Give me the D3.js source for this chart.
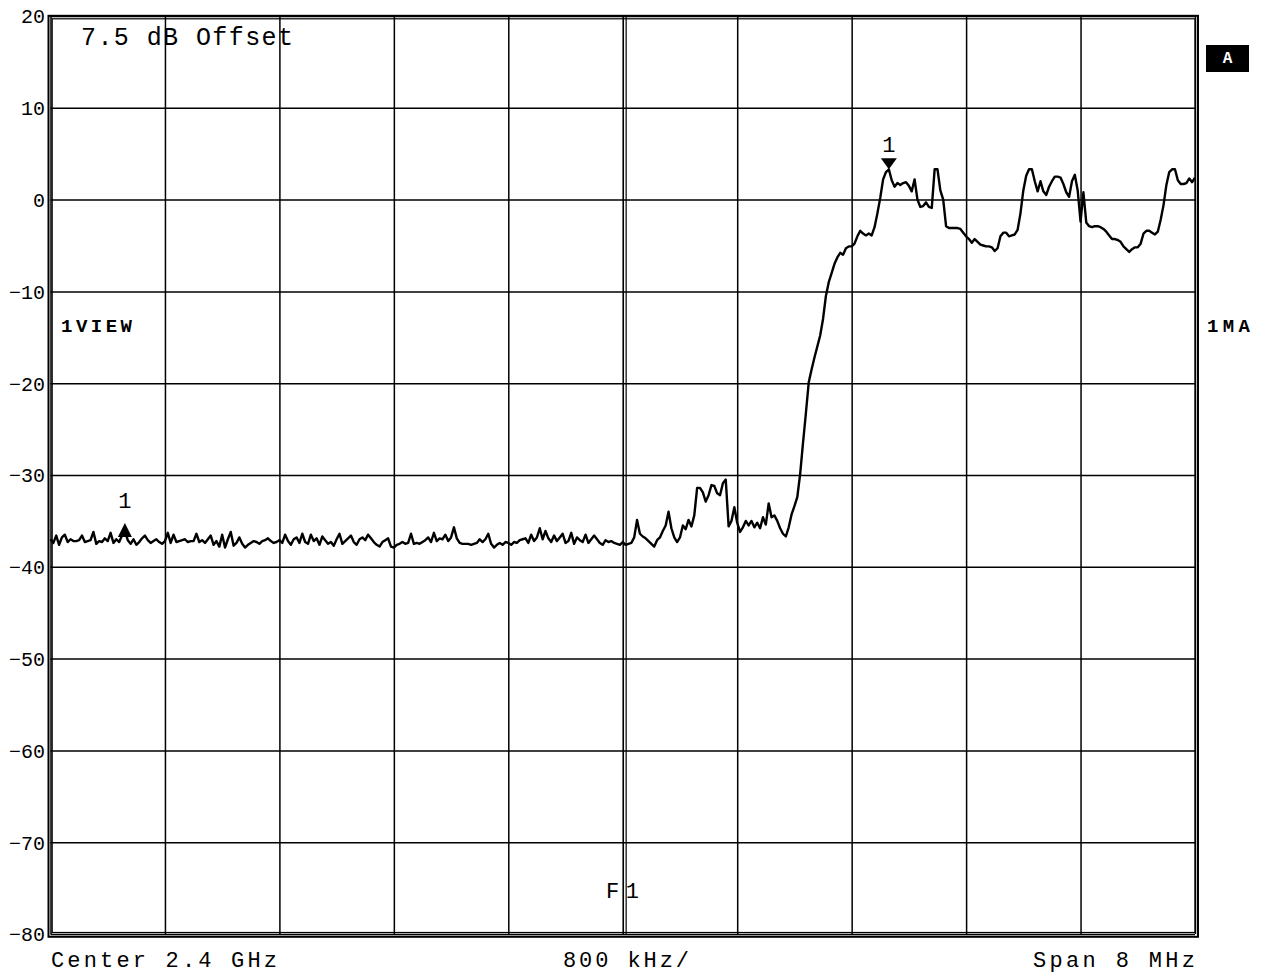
<!DOCTYPE html>
<html>
<head>
<meta charset="utf-8">
<script src="https://cdn.jsdelivr.net/npm/d3@7"></script>
<style>
  html, body { margin: 0; padding: 0; background: #fff; }
  svg { display: block; }
  text { font-family: "Liberation Mono", "Courier New", monospace; fill: #000; }
</style>
</head>
<body>
<svg id="chart" width="1261" height="973"></svg>
<script>
// ---- data ----
const startMHz = -4;          // Center 2.4 GHz, Span 8 MHz
const stopMHz = 4;
const freqTicksMHz = [-4, -3.2, -2.4, -1.6, -0.8, 0, 0.8, 1.6, 2.4, 3.2, 4];
const levelTicks = [20, 10, 0, -10, -20, -30, -40, -50, -60, -70, -80];
const levelLabels = ["20", "10", "0", "\u221210", "\u221220", "\u221230", "\u221240", "\u221250", "\u221260", "\u221270", "\u221280"];
const levels = [
  -37.0,-37.4,-36.6,-37.6,-36.8,-36.5,-37.3,-37.0,-37.2,-37.2,
  -37.1,-36.6,-37.3,-37.2,-37.1,-36.2,-37.5,-37.2,-37.3,-36.9,
  -37.2,-36.3,-37.4,-37.0,-37.3,-36.6,-36.1,-37.1,-37.5,-37.0,
  -37.6,-37.3,-36.9,-36.6,-37.1,-37.4,-37.2,-37.0,-37.3,-37.5,
  -37.2,-36.3,-37.4,-36.5,-37.3,-37.2,-37.1,-37.0,-37.3,-37.2,
  -37.2,-36.4,-37.3,-37.1,-37.4,-37.0,-36.6,-37.6,-37.2,-37.8,
  -36.5,-37.9,-37.0,-36.2,-37.7,-37.4,-36.8,-37.5,-37.9,-37.6,
  -37.4,-37.2,-37.3,-37.5,-37.2,-37.1,-36.9,-37.2,-37.4,-37.3,
  -37.1,-37.4,-36.5,-37.2,-37.6,-37.0,-36.8,-37.4,-36.4,-37.3,
  -37.5,-36.5,-37.2,-36.9,-37.6,-36.7,-37.1,-37.5,-37.3,-37.7,
  -37.0,-36.4,-37.5,-37.2,-36.9,-36.6,-37.3,-37.6,-37.0,-36.8,
  -37.1,-36.5,-36.9,-37.3,-37.6,-37.8,-37.3,-37.1,-36.9,-37.8,
  -37.9,-37.6,-37.5,-37.3,-37.5,-37.4,-36.4,-37.5,-37.4,-37.5,
  -37.3,-37.1,-36.8,-37.3,-36.3,-37.2,-36.9,-37.0,-36.5,-37.2,
  -36.8,-35.7,-36.9,-37.4,-37.5,-37.5,-37.5,-37.6,-37.5,-37.4,
  -37.0,-37.3,-37.0,-36.4,-37.5,-37.9,-37.6,-37.4,-37.6,-37.3,
  -37.4,-37.6,-37.3,-37.4,-37.1,-37.0,-36.9,-37.4,-36.5,-37.2,
  -36.8,-35.8,-37.0,-36.1,-36.9,-37.3,-36.6,-37.2,-36.8,-36.4,
  -37.4,-37.2,-36.3,-37.5,-36.8,-37.1,-37.3,-36.5,-37.4,-37.0,
  -36.6,-37.0,-37.4,-37.6,-37.1,-37.3,-37.2,-37.4,-37.5,-37.6,
  -37.3,-37.6,-37.5,-37.4,-36.8,-34.9,-36.4,-36.7,-36.9,-37.2,
  -37.5,-37.8,-37.1,-36.8,-36.1,-35.5,-34.0,-35.8,-36.8,-37.3,
  -36.8,-35.5,-35.9,-34.9,-35.6,-34.4,-31.4,-31.4,-31.9,-32.9,
  -32.2,-31.1,-31.2,-32.0,-32.2,-30.9,-30.5,-35.6,-35.0,-33.5,
  -35.2,-36.2,-35.7,-35.0,-35.5,-35.0,-35.7,-35.2,-35.8,-34.6,
  -35.4,-33.1,-34.6,-34.4,-35.0,-35.8,-36.4,-36.7,-35.7,-34.3,
  -33.4,-32.4,-29.9,-26.5,-23.3,-19.9,-18.5,-17.2,-16.0,-14.8,
  -13.0,-10.5,-9.0,-8.0,-7.0,-6.3,-5.8,-6.0,-5.3,-5.1,
  -5.1,-4.8,-4.0,-3.4,-3.7,-3.9,-3.7,-3.9,-3.0,-1.5,
  0.2,2.2,3.0,3.3,2.1,1.4,1.8,1.6,1.8,1.9,
  1.5,0.9,2.2,0.0,-0.8,-0.7,-0.3,-0.8,-0.9,3.3,
  3.3,1.0,0.0,-2.9,-3.1,-3.1,-3.1,-3.1,-3.2,-3.6,
  -4.0,-4.3,-4.7,-4.3,-4.6,-4.9,-5.0,-5.1,-5.1,-5.2,
  -5.6,-5.3,-4.0,-3.6,-3.6,-4.0,-3.9,-3.8,-3.3,-1.5,
  1.0,2.6,3.3,3.3,2.0,0.9,2.0,0.9,0.5,1.4,
  2.0,2.5,2.5,2.4,1.7,0.8,0.3,2.0,2.7,1.0,
  -2.4,0.8,-2.5,-2.9,-3.0,-2.9,-2.9,-3.0,-3.2,-3.5,
  -3.9,-4.3,-4.3,-4.4,-4.6,-5.1,-5.4,-5.7,-5.4,-5.2,
  -5.2,-4.8,-3.7,-3.4,-3.4,-3.6,-3.8,-3.5,-2.2,-0.6,
  1.6,3.0,3.3,3.3,2.1,1.7,1.7,1.8,2.3,1.9,2.4
];
const markerIdx = [26, 293];     // marker "1" positions (sweep points)
const markerLabel = ["1", "1"];

// ---- layout ----
const svg = d3.select("#chart");
const X0 = 50.5, X1 = 1195, Y0 = 16, Y1 = 934;
const x = d3.scaleLinear().domain([startMHz, stopMHz]).range([X0, X1]);
const y = d3.scaleLinear().domain([20, -80]).range([Y0, Y1]);
const step = (stopMHz - startMHz) / (levels.length - 1);
const freqOf = i => startMHz + i * step;

// grid
const gx = svg.append("g").attr("transform", `translate(0,${Y1})`)
  .call(d3.axisBottom(x).tickValues(freqTicksMHz).tickSize(-(Y1 - Y0)).tickFormat(""));
gx.select(".domain").remove();
gx.selectAll("line").attr("stroke", "#000").attr("stroke-width", 1.5);

const gy = svg.append("g").attr("transform", `translate(${X0},0)`)
  .call(d3.axisLeft(y).tickValues(levelTicks).tickSize(-(X1 - X0)).tickPadding(6)
    .tickFormat((d, i) => levelLabels[i]));
gy.select(".domain").remove();
gy.selectAll("line").attr("stroke", "#000").attr("stroke-width", 1.5);
gy.selectAll("text").attr("font-size", 20).attr("fill", "#000")
  .attr("font-family", '"Liberation Mono","Courier New",monospace')
  .attr("x", 45 - X0).attr("dy", "0.34em");

// center double line
[0.7, 3.4].forEach(o => {
  svg.append("line").attr("x1", x(0) + o).attr("x2", x(0) + o)
    .attr("y1", Y0).attr("y2", Y1).attr("stroke", "#000").attr("stroke-width", 1.2);
});

// frame (double)
svg.append("rect").attr("x", 48.5).attr("y", 15.8).attr("width", 1198 - 48.5).attr("height", 936.8 - 15.8)
  .attr("fill", "none").attr("stroke", "#000").attr("stroke-width", 2);
svg.append("rect").attr("x", 52.2).attr("y", 18.8).attr("width", 1195 - 52.2).attr("height", 932.5 - 18.8)
  .attr("fill", "none").attr("stroke", "#000").attr("stroke-width", 1.2);

// trace
const line = d3.line().x((d, i) => x(freqOf(i))).y(d => y(d));
svg.append("path").datum(levels).attr("d", line)
  .attr("fill", "none").attr("stroke", "#000").attr("stroke-width", 2.4).attr("stroke-linejoin", "round");

// markers
const m0x = x(freqOf(markerIdx[0])), m0y = y(levels[markerIdx[0]]);
svg.append("path").attr("d", `M${m0x},${m0y - 8} L${m0x - 7},${m0y + 6} L${m0x + 7},${m0y + 6} Z`).attr("fill", "#000");
svg.append("text").attr("x", m0x).attr("y", m0y - 23).attr("text-anchor", "middle")
  .attr("font-size", 22).text(markerLabel[0]);

const m1x = x(freqOf(markerIdx[1])), m1y = y(levels[markerIdx[1]]);
svg.append("path").attr("d", `M${m1x},${m1y} L${m1x - 8},${m1y - 11} L${m1x + 8},${m1y - 11} Z`).attr("fill", "#000");
svg.append("text").attr("x", m1x).attr("y", m1y - 17).attr("text-anchor", "middle")
  .attr("font-size", 22).text(markerLabel[1]);

// annotations
function txt(s, xx, yy, fs, len, bold) {
  const t = svg.append("text").attr("x", xx).attr("y", yy).attr("font-size", fs).text(s);
  if (len) t.attr("textLength", len).attr("lengthAdjust", "spacing");
  if (bold) t.attr("font-weight", "bold");
  return t;
}
txt("7.5 dB Offset", 81, 45, 25, 212);
txt("1VIEW", 61, 332, 19, 71, true);
txt("1MA", 1207, 332, 19, 43, true);
svg.append("rect").attr("x", 1206).attr("y", 45).attr("width", 43).attr("height", 27).attr("fill", "#000");
svg.append("text").attr("x", 1227.5).attr("y", 63).attr("text-anchor", "middle")
  .attr("font-size", 16).attr("font-weight", "bold").style("fill", "#fff").text("A");
txt("F1", 606, 898, 22, 33);
txt("Center 2.4 GHz", 51, 967, 22, 226);
txt("800 kHz/", 563, 967, 22, 126);
txt("Span 8 MHz", 1033, 967, 22, 162);
</script>
</body>
</html>
